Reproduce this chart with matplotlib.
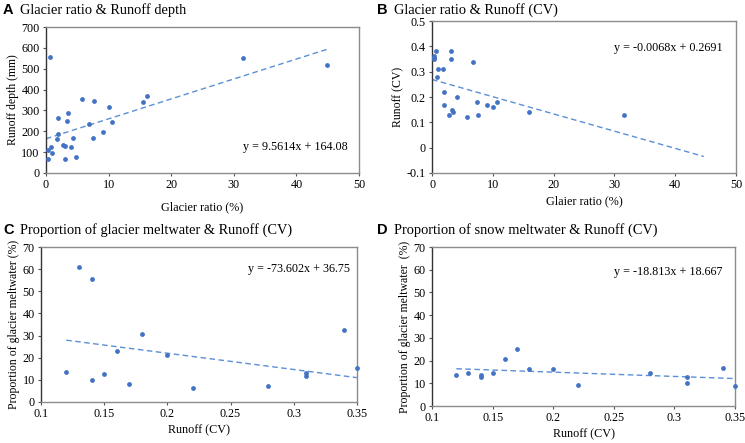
import numpy as np
import matplotlib.pyplot as plt

# A: glacier ratio (%) vs runoff depth (mm)
a_ratio = [0.64, 0.27, 0.37, 0.74, 1.0, 1.9, 1.8, 1.86, 2.77, 3.1, 3.1, 3.35, 3.46, 4.0,
           4.36, 4.8, 5.8, 6.8, 7.45, 7.6, 9.04, 10.0, 10.6, 15.5, 16.1, 31.5, 44.9]
a_depth = [555, 67, 112, 125, 96, 266, 165, 185, 136, 130, 69, 247, 287, 127,
           169, 77, 353, 234, 169, 345, 197, 315, 246, 339, 368, 552, 519]
a_fit = (9.5614, 164.08)

# B: glacier ratio (%) vs runoff CV
b_ratio = [0.33, 0.27, 0.38, 0.71, 0.77, 1.04, 1.86, 1.9, 1.9, 2.74, 3.1, 3.1, 3.3, 3.4,
           4.06, 5.8, 6.8, 7.46, 7.6, 9.05, 10.0, 10.6, 16.0, 31.5]
b_cv = [0.356, 0.35, 0.362, 0.38, 0.28, 0.31, 0.31, 0.22, 0.17, 0.13, 0.38, 0.35, 0.15, 0.14,
        0.2, 0.12, 0.34, 0.18, 0.13, 0.17, 0.16, 0.18, 0.14, 0.13]
b_fit = (-0.0068, 0.2691)
b_fit_range = (0, 44.7)

# C: runoff CV vs glacier meltwater share (%)
c_cv = [0.12, 0.13, 0.14, 0.14, 0.15, 0.16, 0.17, 0.18, 0.2, 0.22, 0.28, 0.31, 0.31, 0.34, 0.35]
c_share = [13.7, 61.1, 55.7, 10.1, 12.5, 23.2, 8.3, 30.6, 21.4, 6.5, 7.2, 13.0, 11.9, 32.7, 15.5]
c_fit = (-73.602, 36.75)

# D: runoff CV vs snow meltwater share (%)
d_cv = [0.12, 0.13, 0.14, 0.14, 0.15, 0.16, 0.17, 0.18, 0.2, 0.22, 0.28, 0.31, 0.31, 0.34, 0.35]
d_share = [13.5, 14.4, 13.8, 12.9, 14.4, 20.9, 25.2, 16.5, 16.3, 9.2, 14.4, 12.7, 10.0, 16.7, 8.6]
d_fit = (-18.813, 18.667)

plt.rcParams['font.family'] = 'Liberation Serif'
dot = '#4472C4'
trend = '#5B8FD6'

fig = plt.figure(figsize=(7.45, 4.43), dpi=100)


def panel(rect, x, y, fit, fit_x, xlim, ylim, xticks, yticks, xfmt, xlabel, ylabel,
          letter, title, eq_xy, title_y, xlabel_pad=3):
    ax = fig.add_axes(rect)
    ax.scatter(x, y, s=12, color=dot, zorder=3, linewidths=0, clip_on=False)
    fx = np.array(fit_x)
    ax.plot(fx, fit[0] * fx + fit[1], ls=(0, (4, 2.5)), color=trend, lw=1.0, zorder=2)
    ax.set_xlim(xlim)
    ax.set_ylim(ylim)
    ax.set_xticks(xticks)
    ax.set_xticklabels([xfmt(v) for v in xticks])
    ax.set_yticks(yticks)
    ax.set_yticklabels([('%g' % v) for v in yticks])
    ax.tick_params(labelsize=8.7, length=2.5, width=0.8, color='#555555', pad=2)
    for s in ['top', 'right', 'bottom']:
        ax.spines[s].set_color('#8c8c8c')
        ax.spines[s].set_linewidth(1.0)
    ax.spines['left'].set_color('#333333')
    ax.spines['left'].set_linewidth(1.0)
    ax.set_xlabel(xlabel, fontsize=8.7, labelpad=xlabel_pad)
    ax.set_ylabel(ylabel, fontsize=8.5, labelpad=2)
    sign = '-' if fit[0] < 0 else ''
    eq = 'y = %s%gx + %g' % (sign, abs(fit[0]), fit[1])
    ax.text(eq_xy[0], eq_xy[1], eq, transform=ax.transAxes, fontsize=8.7, ha='left', va='center')
    fig.text(title_y[0], title_y[1], letter, fontsize=10.5, fontweight='bold',
             family='Liberation Sans', va='center')
    fig.text(title_y[0] + 0.023, title_y[1], title, fontsize=10.4, va='center')
    return ax


panel([0.0617, 0.6095, 0.4203, 0.3295], a_ratio, a_depth, a_fit, [0, max(a_ratio)],
      (0, 50), (0, 700), [0, 10, 20, 30, 40, 50], range(0, 701, 100), lambda v: '%d' % v,
      'Glacier ratio (%)', 'Runoff depth (mm)', 'A', 'Glacier ratio & Runoff depth',
      (0.63, 0.18), (0.004, 0.978), xlabel_pad=7)

panel([0.580, 0.6095, 0.408, 0.343], b_ratio, b_cv, b_fit, list(b_fit_range),
      (0, 50), (-0.1, 0.5), [0, 10, 20, 30, 40, 50], np.round(np.arange(-0.1, 0.51, 0.1), 1),
      lambda v: '%d' % v, 'Glaier ratio (%)', 'Runoff (CV)', 'B', 'Glacier ratio & Runoff (CV)',
      (0.6, 0.82), (0.506, 0.978))

panel([0.055, 0.0926, 0.424, 0.3498], c_cv, c_share, c_fit, [min(c_cv), max(c_cv)],
      (0.1, 0.35), (0, 70), [0.1, 0.15, 0.2, 0.25, 0.3, 0.35], range(0, 71, 10),
      lambda v: '%g' % v, 'Runoff (CV)', 'Proportion of glacier meltwater (%)', 'C',
      'Proportion of glacier meltwater & Runoff (CV)', (0.655, 0.855), (0.004, 0.48))

panel([0.580, 0.0835, 0.4066, 0.3589], d_cv, d_share, d_fit, [min(d_cv), max(d_cv)],
      (0.1, 0.35), (0, 70), [0.1, 0.15, 0.2, 0.25, 0.3, 0.35], range(0, 71, 10),
      lambda v: '%g' % v, 'Runoff (CV)', 'Proportion of glacier meltwater  (%)', 'D',
      'Proportion of snow meltwater & Runoff (CV)', (0.6, 0.845), (0.506, 0.48))

fig.savefig('out.png', dpi=100)
